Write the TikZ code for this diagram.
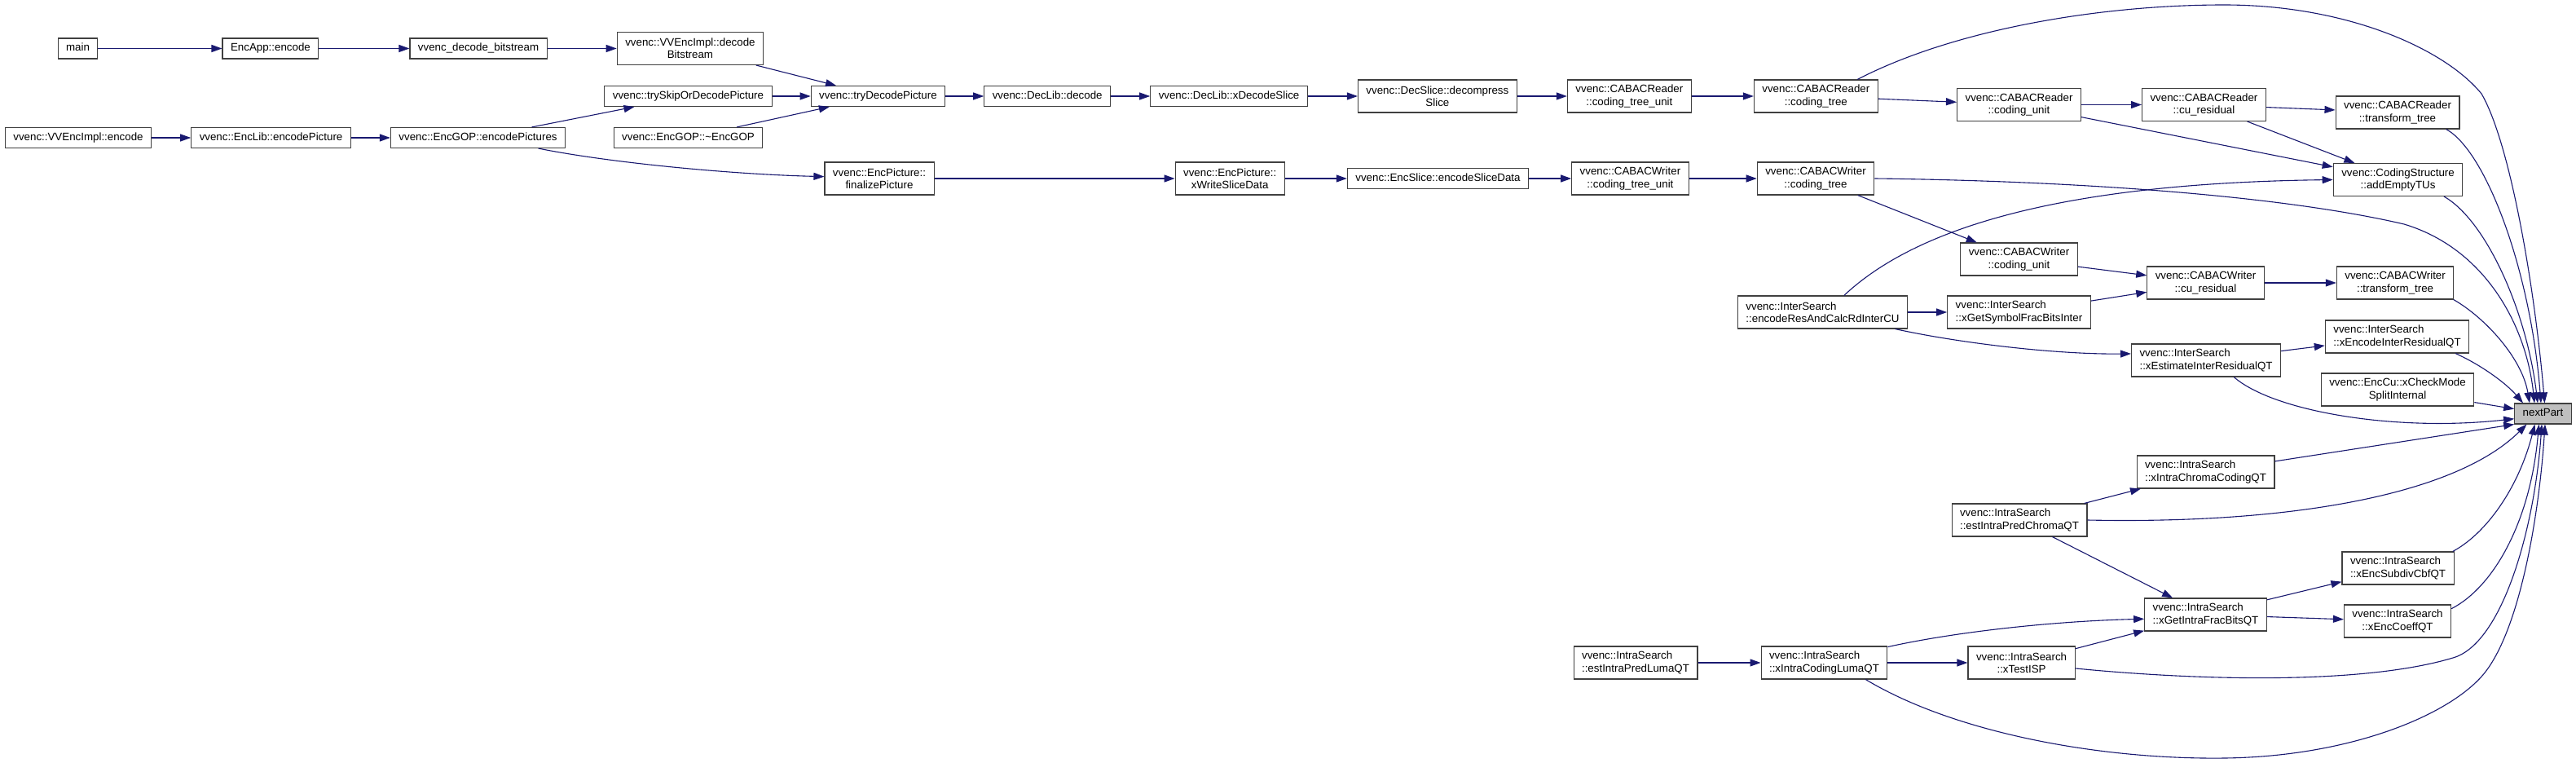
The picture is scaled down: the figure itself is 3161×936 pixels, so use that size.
\documentclass[tikz,border=0pt]{standalone}
\usepackage{fontspec}
\setmainfont{Liberation Sans}
\usetikzlibrary{arrows.meta,positioning}
\definecolor{callblue}{HTML}{191970}
\definecolor{boxgrey}{HTML}{404040}
\definecolor{rootfill}{HTML}{BFBFBF}
\tikzset{every picture/.style={line width=1.1pt},
  fbox/.style={draw=boxgrey, fill=white, inner xsep=10pt, inner ysep=2pt,
    font=\fontsize{13.33}{15.3}\selectfont},
  func/.style={fbox, minimum height=25pt, text height=9.7pt, text depth=2.9pt},
  func2/.style={fbox, minimum height=40pt, align=center},
  func2l/.style={fbox, minimum height=40pt, align=left},
  root/.style={func, fill=rootfill},
  call/.style={draw=callblue, -{Triangle[length=13pt,width=9pt]}}}

\begin{document}
\begin{tikzpicture}[x=1pt,y=-1pt]
    \path[fill=white, use as bounding box] (0,0) rectangle (3161,936);

    \node[func] (main) at (95.5,59.5) {main};
    \node[func, right=152pt of main] (encapp) {EncApp::encode};
    \node[func, right=111pt of encapp] (decbits) {vvenc\_decode\_bitstream};
    \node[func2, right=85pt of decbits] (decbs) {vvenc::VVEncImpl::decode\\Bitstream};

    \node[func] (tryskip) at (844.5,118) {vvenc::trySkipOrDecodePicture};
    \node[func, right=47pt of tryskip] (trydec) {vvenc::tryDecodePicture};
    \node[func, right=47pt of trydec] (declib) {vvenc::DecLib::decode};
    \node[func, right=48pt of declib] (xdecslice) {vvenc::DecLib::xDecodeSlice};
    \node[func2, right=61pt of xdecslice] (decompress) {vvenc::DecSlice::decompress\\Slice};
    \node[func2, right=61pt of decompress] (rctu) {vvenc::CABACReader\\::coding\_tree\_unit};
    \node[func2, right=76pt of rctu] (rct) {vvenc::CABACReader\\::coding\_tree};
    \node[func2] (rcu) at (2477.5,128.5) {vvenc::CABACReader\\::coding\_unit};
    \node[func2, right=74pt of rcu] (rres) {vvenc::CABACReader\\::cu\_residual};
    \node[func2] (rtt) at (2942,138) {vvenc::CABACReader\\::transform\_tree};

    \node[func] (vvencenc) at (96,169) {vvenc::VVEncImpl::encode};
    \node[func, right=48pt of vvencenc] (enclib) {vvenc::EncLib::encodePicture};
    \node[func, right=48pt of enclib] (encgop) {vvenc::EncGOP::encodePictures};
    \node[func] (dtor) at (844.5,169) {vvenc::EncGOP::\textasciitilde EncGOP};

    \node[func2] (finalize) at (1079,219) {vvenc::EncPicture::\\finalizePicture};
    \node[func2, right=295pt of finalize] (xwrite) {vvenc::EncPicture::\\xWriteSliceData};
    \node[func, right=76pt of xwrite] (encslice) {vvenc::EncSlice::encodeSliceData};
    \node[func2, right=52pt of encslice] (wctu) {vvenc::CABACWriter\\::coding\_tree\_unit};
    \node[func2, right=83pt of wctu] (wct) {vvenc::CABACWriter\\::coding\_tree};
    \node[func2] (addempty) at (2942.5,220.5) {vvenc::CodingStructure\\::addEmptyTUs};

    \node[func2] (wcu) at (2477.5,318) {vvenc::CABACWriter\\::coding\_unit};
    \node[func2] (wres) at (2706.5,347) {vvenc::CABACWriter\\::cu\_residual};
    \node[func2, right=88pt of wres] (wtt) {vvenc::CABACWriter\\::transform\_tree};

    \node[func2l] (encres) at (2236.5,383) {vvenc::InterSearch\\::encodeResAndCalcRdInterCU};
    \node[func2l, right=48pt of encres] (xgetsym) {vvenc::InterSearch\\::xGetSymbolFracBitsInter};
    \node[func2l] (xencinter) at (2941.5,413) {vvenc::InterSearch\\::xEncodeInterResidualQT};
    \node[func2l] (xestinter) at (2707,442) {vvenc::InterSearch\\::xEstimateInterResidualQT};
    \node[func2] (xcheck) at (2942,478) {vvenc::EncCu::xCheckMode\\SplitInternal};
    \node[root] (nextpart) at (3120.5,507.5) {nextPart};

    \node[func2l] (xchroma) at (2706.5,579) {vvenc::IntraSearch\\::xIntraChromaCodingQT};
    \node[func2l] (estchroma) at (2478,638) {vvenc::IntraSearch\\::estIntraPredChromaQT};
    \node[func2l] (xsubdiv) at (2942.5,697) {vvenc::IntraSearch\\::xEncSubdivCbfQT};
    \node[func2l] (xgetintra) at (2706.5,754) {vvenc::IntraSearch\\::xGetIntraFracBitsQT};
    \node[func2] (xcoeff) at (2942,762) {vvenc::IntraSearch\\::xEncCoeffQT};
    \node[func2l] (estluma) at (2007,813) {vvenc::IntraSearch\\::estIntraPredLumaQT};
    \node[func2l, right=77pt of estluma] (xluma) {vvenc::IntraSearch\\::xIntraCodingLumaQT};
    \node[func2, right=98pt of xluma] (xtestisp) {vvenc::IntraSearch\\::xTestISP};

    \draw[call] (main) -- (encapp);
    \draw[call] (encapp) -- (decbits);
    \draw[call] (decbits) -- (decbs);
    \draw[call] (decbs) -- (trydec);
    \draw[call] (tryskip) -- (trydec);
    \draw[call] (dtor) -- (trydec);
    \draw[call] (trydec) -- (declib);
    \draw[call] (declib) -- (xdecslice);
    \draw[call] (xdecslice) -- (decompress);
    \draw[call] (decompress) -- (rctu);
    \draw[call] (rctu) -- (rct);
    \draw[call] (rct) -- (rcu);
    \draw[call] (rct.22) .. controls (2400,35) and (2580,6) .. (2729,6)
        .. controls (2880,6) and (3000,60) .. (3045,115)
        .. controls (3080,175) and (3110,350) .. ([xshift=2pt]nextpart.north);
    \draw[call] (rcu) -- (rres);
    \draw[call] (rcu) -- (addempty);
    \draw[call] (rres) -- (rtt);
    \draw[call] (rres) -- (addempty);
    \draw[call] (rtt.-19) .. controls (3050,185) and (3105,330) .. ([xshift=-2.5pt]nextpart.north);
    \draw[call] (addempty.-20) .. controls (3050,270) and (3100,380) .. ([xshift=-6.5pt]nextpart.north);

    \draw[call] (vvencenc) -- (enclib);
    \draw[call] (enclib) -- (encgop);
    \draw[call] (encgop) -- (tryskip);
    \draw[call] (encgop.-10) .. controls (750,200) and (900,214) .. (finalize.178);
    \draw[call] (finalize) -- (xwrite);
    \draw[call] (xwrite) -- (encslice);
    \draw[call] (encslice) -- (wctu);
    \draw[call] (wctu) -- (wct);
    \draw[call] (wct) -- (wcu);
    \draw[call] (wct.east) .. controls (2550,222) and (2800,240) .. (2950,275)
        .. controls (3050,305) and (3100,400) .. ([xshift=-10.5pt]nextpart.north);
    \draw[call] (wcu) -- (wres);
    \draw[call] (wres) -- (wtt);
    \draw[call] (wtt.-16) .. controls (3050,390) and (3095,440) .. ([xshift=-16.5pt]nextpart.north);

    \draw[call] (encres.38) .. controls (2340,290) and (2500,225) .. (addempty.west);
    \draw[call] (encres) -- (xgetsym);
    \draw[call] (encres.-13) .. controls (2400,420) and (2520,435) .. (xestinter.175);
    \draw[call] (xgetsym) -- (wres);
    \draw[call] (xestinter) -- (xencinter);
    \draw[call] (xestinter.-31) .. controls (2790,505) and (2940,530) .. (nextpart.-170);
    \draw[call] (xencinter.-16) .. controls (3045,448) and (3075,470) .. ([xshift=-24.5pt]nextpart.north);
    \draw[call] (xcheck) -- (nextpart);

    \draw[call] (xchroma) -- (nextpart.south west);
    \draw[call] (estchroma) -- (xchroma);
    \draw[call] (estchroma.east) .. controls (2800,643) and (3010,610) .. ([xshift=-20pt]nextpart.south);
    \draw[call] (estchroma) -- (xgetintra);
    \draw[call] (xgetintra) -- (xsubdiv);
    \draw[call] (xgetintra) -- (xcoeff);
    \draw[call] (xsubdiv.17) .. controls (3050,655) and (3090,600) .. ([xshift=-10pt]nextpart.south);
    \draw[call] (xcoeff.13) .. controls (3060,720) and (3105,640) .. ([xshift=-5pt]nextpart.south);
    \draw[call] (estluma) -- (xluma);
    \draw[call] (xluma.14) .. controls (2400,775) and (2520,762) .. (xgetintra.-176);
    \draw[call] (xluma) -- (xtestisp);
    \draw[call] (xluma.-22) .. controls (2400,900) and (2580,932) .. (2730,930)
        .. controls (2880,928) and (3000,880) .. (3045,830)
        .. controls (3090,780) and (3115,640) .. ([xshift=2.5pt]nextpart.south);
    \draw[call] (xtestisp) -- (xgetintra);
    \draw[call] (xtestisp.-6) .. controls (2700,835) and (2900,840) .. (3010,807)
        .. controls (3070,790) and (3110,650) .. ([xshift=-1.5pt]nextpart.south);
\end{tikzpicture}
\end{document}
